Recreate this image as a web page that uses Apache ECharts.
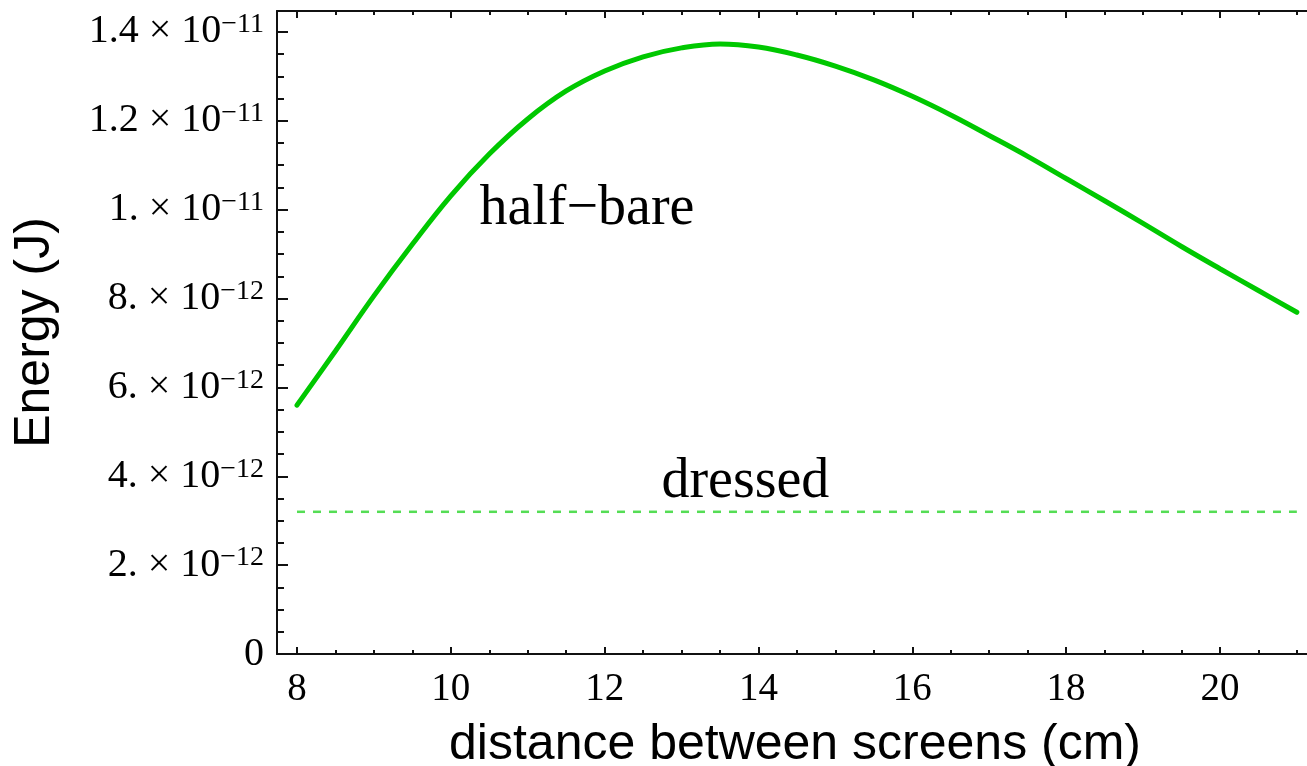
<!DOCTYPE html>
<html>
<head>
<meta charset="utf-8">
<script src="https://cdn.jsdelivr.net/npm/echarts@6/dist/echarts.min.js"></script>
<style>
  html, body { margin: 0; padding: 0; background: #fff; }
  #chart { width: 1307px; height: 766px; }
</style>
</head>
<body>
<div id="chart"></div>
<script>
// distance between screens (cm)
var distance = [8, 8.5, 9, 9.5, 10, 10.5, 11, 11.5, 12, 12.5, 13, 13.5, 14,
  14.5, 15, 15.5, 16, 16.5, 17, 17.5, 18, 18.5, 19, 19.5, 20, 20.5, 21];
// half-bare energy (J)
var halfBare = [5.60e-12, 6.82e-12, 8.06e-12, 9.22e-12, 10.31e-12, 11.25e-12,
  12.04e-12, 12.67e-12, 13.12e-12, 13.44e-12, 13.64e-12, 13.73e-12, 13.66e-12,
  13.48e-12, 13.23e-12, 12.92e-12, 12.55e-12, 12.13e-12, 11.67e-12, 11.20e-12,
  10.70e-12, 10.20e-12, 9.69e-12, 9.17e-12, 8.67e-12, 8.18e-12, 7.69e-12];
// dressed energy (J), constant
var dressedX = [8, 21];
var dressed = [3.2e-12, 3.2e-12];

// tick values
var xMajor = [8, 10, 12, 14, 16, 18, 20];
var xMinor = [8.5, 9, 9.5, 10.5, 11, 11.5, 12.5, 13, 13.5, 14.5, 15, 15.5,
  16.5, 17, 17.5, 18.5, 19, 19.5, 20.5, 21];
var yMajor = [0, 2e-12, 4e-12, 6e-12, 8e-12, 1e-11, 1.2e-11, 1.4e-11];
var yMinor = [0.5e-12, 1e-12, 1.5e-12, 2.5e-12, 3e-12, 3.5e-12, 4.5e-12, 5e-12,
  5.5e-12, 6.5e-12, 7e-12, 7.5e-12, 8.5e-12, 9e-12, 9.5e-12, 10.5e-12, 11e-12,
  11.5e-12, 12.5e-12, 13e-12, 13.5e-12, 14e-12];

// text annotations placed in data coordinates
var noteText = ['half\u2212bare', 'dressed'];
var noteX = [11.77, 13.83];
var noteY = [10.0e-12, 3.87e-12];

var serif = '"Liberation Serif", "DejaVu Serif", serif';
var sans = '"Liberation Sans", Arial, sans-serif';
var ink = '#111';

function yLabel(v) {
  if (v === 0) return '{m|0}';
  var e = Math.floor(Math.log10(v) + 1e-9);
  var m = Math.round(v / Math.pow(10, e) * 10) / 10;
  var ms = (m % 1 === 0) ? m + '.' : String(m);
  return '{m|' + ms + '}{x|\u00d7}{m|10}{e|\u2212' + Math.abs(e) + '}';
}

function tickAxis(extra) {
  var base = {
    type: 'value',
    splitLine: { show: false },
    axisLine: { show: false },
    axisLabel: { show: false },
    axisTick: { show: false }
  };
  return Object.assign(base, extra);
}

var xMin = 7.74, xMax = 21.21;
var yMin = 0, yMax = 1.447e-11;

var chart = echarts.init(document.getElementById('chart'));
chart.setOption({
  animation: false,
  backgroundColor: '#fff',
  grid: { left: 277, top: 11, bottom: 112, right: -6, outerBoundsMode: 'none', containLabel: false },
  xAxis: [
    tickAxis({
      position: 'bottom', min: xMin, max: xMax,
      axisLine: { show: true, lineStyle: { color: ink, width: 2 } },
      axisTick: { show: true, inside: true, length: 7, customValues: xMajor,
        lineStyle: { color: ink, width: 2 } },
      axisLabel: { show: true, customValues: xMajor, margin: 16,
        fontFamily: serif, fontSize: 39, color: '#000' },
      name: 'distance between screens (cm)',
      nameLocation: 'middle', nameGap: 66,
      nameTextStyle: { fontFamily: sans, fontSize: 50, color: '#000' }
    }),
    tickAxis({
      position: 'bottom', min: xMin, max: xMax,
      axisTick: { show: true, inside: true, length: 4, customValues: xMinor,
        lineStyle: { color: ink, width: 2 } }
    }),
    tickAxis({
      position: 'top', min: xMin, max: xMax,
      axisLine: { show: true, lineStyle: { color: ink, width: 2 } },
      axisTick: { show: true, inside: true, length: 7, customValues: xMajor,
        lineStyle: { color: ink, width: 2 } }
    }),
    tickAxis({
      position: 'top', min: xMin, max: xMax,
      axisTick: { show: true, inside: true, length: 4, customValues: xMinor,
        lineStyle: { color: ink, width: 2 } }
    })
  ],
  yAxis: [
    tickAxis({
      position: 'left', min: yMin, max: yMax,
      axisLine: { show: true, lineStyle: { color: ink, width: 2 } },
      axisTick: { show: true, inside: true, length: 11, customValues: yMajor,
        lineStyle: { color: ink, width: 2 } },
      axisLabel: {
        show: true, customValues: yMajor, margin: 13,
        formatter: yLabel,
        rich: {
          m: { fontFamily: serif, fontSize: 40, color: '#000', lineHeight: 42 },
          x: { fontFamily: serif, fontSize: 40, color: '#000', padding: [0, 10, 0, 10], lineHeight: 42 },
          e: { fontFamily: serif, fontSize: 28, color: '#000', lineHeight: 27, verticalAlign: 'top' }
        }
      },
      name: 'Energy (J)',
      nameLocation: 'middle', nameGap: 217, nameRotate: 90,
      nameTextStyle: { fontFamily: sans, fontSize: 50, color: '#000' }
    }),
    tickAxis({
      position: 'left', min: yMin, max: yMax,
      axisTick: { show: true, inside: true, length: 7, customValues: yMinor,
        lineStyle: { color: ink, width: 2 } }
    })
  ],
  series: [
    {
      name: 'half-bare', type: 'line', smooth: 0.4, showSymbol: false,
      data: distance.map(function (x, i) { return [x, halfBare[i]]; }),
      lineStyle: { color: '#00c800', width: 5, cap: 'round' }
    },
    {
      name: 'dressed', type: 'line', showSymbol: false,
      data: dressedX.map(function (x, i) { return [x, dressed[i]]; }),
      lineStyle: { color: '#55dd55', width: 2.5, type: [8, 8] }
    },
    {
      name: 'notes', type: 'scatter', symbolSize: 0, silent: true,
      itemStyle: { opacity: 1 },
      data: noteText.map(function (t, i) { return { value: [noteX[i], noteY[i]], name: t }; }),
      label: {
        show: true, position: 'inside', formatter: '{b}',
        fontFamily: serif, fontSize: 56, color: '#000'
      }
    }
  ]
});
</script>
</body>
</html>
